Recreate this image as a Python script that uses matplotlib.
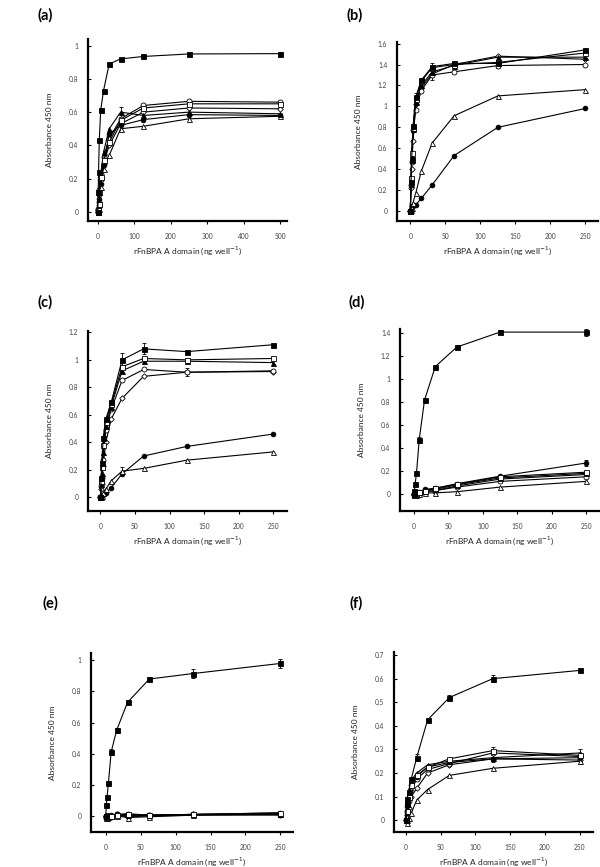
import matplotlib
matplotlib.use("Agg")
import matplotlib.pyplot as plt
from matplotlib.ticker import FuncFormatter

# ---- data ----
CONC = [0, 0.98, 1.95, 3.9, 7.8, 15.6, 31.25, 62.5, 125, 250]
CONC_A = CONC + [500]

# series order: filled square, open square, filled triangle, open triangle,
#               filled circle, open circle, open diamond
SERIES = ["fsq", "osq", "ftri", "otri", "fcir", "ocir", "odia"]

A_VALUES = [
    [0.0, 0.12, 0.24, 0.43, 0.61, 0.73, 0.89, 0.92, 0.935, 0.95, 0.952],
    [0.0, 0.01, 0.05, 0.12, 0.21, 0.31, 0.42, 0.55, 0.625, 0.65, 0.65],
    [0.0, 0.02, 0.05, 0.12, 0.22, 0.36, 0.50, 0.60, 0.58, 0.60, 0.59],
    [0.0, 0.0, 0.02, 0.06, 0.15, 0.26, 0.34, 0.50, 0.515, 0.56, 0.575],
    [0.0, 0.01, 0.03, 0.08, 0.17, 0.28, 0.47, 0.52, 0.555, 0.585, 0.58],
    [0.0, 0.02, 0.06, 0.13, 0.23, 0.33, 0.44, 0.56, 0.64, 0.665, 0.66],
    [0.0, 0.01, 0.04, 0.10, 0.19, 0.29, 0.40, 0.53, 0.60, 0.625, 0.62],
]
A_ERR = [(2, 7, 0.03), (0, 10, 0.01)]

B_VALUES = [
    [0.0, 0.28, 0.50, 0.81, 1.09, 1.25, 1.38, 1.41, 1.41, 1.54],
    [0.0, 0.32, 0.55, 0.79, 1.07, 1.24, 1.37, 1.40, 1.42, 1.51],
    [0.0, 0.26, 0.49, 0.78, 1.04, 1.20, 1.33, 1.39, 1.47, 1.47],
    [0.0, 0.01, 0.03, 0.08, 0.17, 0.38, 0.65, 0.91, 1.10, 1.16],
    [0.0, 0.0, 0.05, 0.05, 0.06, 0.12, 0.25, 0.53, 0.80, 0.98],
    [0.0, 0.25, 0.47, 0.77, 0.97, 1.15, 1.30, 1.33, 1.39, 1.40],
    [0.0, 0.22, 0.40, 0.67, 1.02, 1.18, 1.31, 1.40, 1.48, 1.45],
]
B_ERR = [(0, 6, 0.03), (6, 6, 0.06), (0, 4, 0.04), (5, 8, 0.02)]

C_VALUES = [
    [0.0, 0.14, 0.25, 0.43, 0.57, 0.69, 1.00, 1.08, 1.06, 1.11],
    [0.0, 0.12, 0.22, 0.38, 0.55, 0.68, 0.95, 1.01, 1.00, 1.01],
    [0.0, 0.10, 0.18, 0.33, 0.52, 0.66, 0.92, 0.99, 0.99, 0.98],
    [0.0, 0.0, 0.01, 0.03, 0.06, 0.12, 0.19, 0.21, 0.27, 0.33],
    [0.0, 0.0, 0.01, 0.02, 0.03, 0.07, 0.17, 0.30, 0.37, 0.46],
    [0.0, 0.08, 0.14, 0.27, 0.49, 0.64, 0.85, 0.93, 0.91, 0.92],
    [0.0, 0.06, 0.10, 0.23, 0.40, 0.57, 0.72, 0.88, 0.91, 0.915],
]
C_ERR = [(0, 6, 0.05), (0, 7, 0.04), (3, 6, 0.03), (6, 8, 0.03), (1, 8, 0.015)]

D_VALUES = [
    [0.0, 0.03, 0.09, 0.18, 0.47, 0.82, 1.11, 1.28, 1.41, 1.41],
    [0.0, -0.01, 0.0, 0.01, 0.02, 0.03, 0.05, 0.085, 0.15, 0.19],
    [0.0, 0.0, 0.01, 0.01, 0.02, 0.03, 0.04, 0.08, 0.14, 0.18],
    [0.0, -0.01, -0.01, -0.01, 0.0, 0.01, 0.01, 0.02, 0.06, 0.11],
    [0.0, 0.0, 0.01, 0.02, 0.02, 0.04, 0.05, 0.09, 0.155, 0.27],
    [0.0, -0.01, -0.01, 0.0, 0.01, 0.02, 0.03, 0.06, 0.11, 0.15],
    [0.0, -0.01, 0.0, 0.0, 0.01, 0.02, 0.03, 0.07, 0.13, 0.17],
]
D_ERR = [(0, 4, 0.03), (0, 8, 0.015), (0, 9, 0.03), (4, 9, 0.03)]

E_VALUES = [
    [0.0, 0.07, 0.12, 0.21, 0.41, 0.55, 0.73, 0.88, 0.915, 0.98],
    [0.0, -0.005, 0.0, 0.005, 0.0, 0.005, 0.01, 0.005, 0.01, 0.02],
    [0.0, 0.0, 0.005, 0.0, 0.005, 0.01, 0.005, 0.005, 0.01, 0.015],
    [0.0, -0.01, -0.01, -0.005, 0.0, 0.0, -0.01, -0.005, 0.005, 0.01],
    [0.0, 0.0, -0.005, 0.0, 0.005, 0.01, 0.0, 0.005, 0.01, 0.02],
    [0.0, -0.01, -0.01, -0.01, -0.005, 0.01, 0.015, 0.005, 0.01, 0.005],
    [0.0, -0.005, -0.01, 0.0, 0.0, 0.005, -0.005, 0.0, 0.005, 0.01],
]
E_ERR = [(0, 4, 0.02), (0, 5, 0.015), (0, 6, 0.01), (0, 8, 0.03), (0, 9, 0.03)]

F_VALUES = [
    [0.0, 0.07, 0.09, 0.12, 0.175, 0.265, 0.425, 0.52, 0.60, 0.635],
    [0.0, 0.04, 0.07, 0.10, 0.15, 0.19, 0.225, 0.26, 0.295, 0.275],
    [0.0, 0.05, 0.08, 0.12, 0.17, 0.20, 0.235, 0.25, 0.265, 0.285],
    [0.0, -0.01, 0.0, 0.01, 0.03, 0.085, 0.13, 0.19, 0.22, 0.25],
    [0.0, 0.03, 0.06, 0.10, 0.15, 0.185, 0.225, 0.245, 0.26, 0.265],
    [0.0, 0.01, 0.04, 0.08, 0.125, 0.175, 0.215, 0.24, 0.285, 0.27],
    [0.0, 0.0, 0.02, 0.05, 0.10, 0.135, 0.20, 0.235, 0.26, 0.255],
]
F_ERR = [(0, 5, 0.015), (0, 7, 0.01), (0, 8, 0.015), (1, 8, 0.015),
         (2, 9, 0.015), (6, 8, 0.015), (3, 9, 0.01)]

X_LABEL = r"rFnBPA A domain (ng well$^{-1}$)"
Y_LABEL = "Absorbance 450 nm"

STYLE = {
    "fsq": dict(marker="s", mfc="black", ms=3.6),
    "osq": dict(marker="s", mfc="white", ms=3.6),
    "ftri": dict(marker="^", mfc="black", ms=3.6),
    "otri": dict(marker="^", mfc="white", ms=3.6),
    "fcir": dict(marker="o", mfc="black", ms=3.4),
    "ocir": dict(marker="o", mfc="white", ms=3.6),
    "odia": dict(marker="D", mfc="white", ms=2.8),
}

plt.rcParams["font.family"] = ["Lato", "DejaVu Sans"]
plt.rcParams["mathtext.fontset"] = "dejavusans"

fig = plt.figure(figsize=(6.0, 8.67), dpi=100)
W, H = 600.0, 867.0


def add_axes(left, top, right, bottom):
    return fig.add_axes([left / W, 1 - bottom / H, (right - left) / W, (bottom - top) / H])


def draw_panel(ax, x, values, errors, xlim, ylim, xticks, yticks):
    # draw lower series first so the top curve sits above
    for name, y in reversed(list(zip(SERIES, values))):
        ax.plot(x, y, color="black", lw=0.8, mec="black", mew=0.6,
                zorder=3, **STYLE[name])
    for si, xi, err in errors:
        ax.errorbar(x[xi], values[si][xi], yerr=err, fmt="none", ecolor="black",
                    elinewidth=0.6, capsize=1.6, capthick=0.6, zorder=2)

    ax.set_xlim(*xlim)
    ax.set_ylim(*ylim)
    ax.set_xticks(xticks)
    ax.set_yticks(yticks)
    ax.yaxis.set_major_formatter(FuncFormatter(lambda v, _: f"{round(v, 2):g}"))
    for side in ("top", "right"):
        ax.spines[side].set_visible(False)
    for side in ("left", "bottom"):
        ax.spines[side].set_linewidth(1.6)
    ax.tick_params(axis="both", labelsize=4.8, labelcolor="#444444",
                   length=2.5, width=0.8, direction="out", pad=6)
    ax.tick_params(axis="y", direction="in", pad=7)
    ax.set_ylabel(Y_LABEL, fontsize=6.0, color="#222222")
    ax.set_xlabel(X_LABEL, fontsize=6.0, color="#222222")
    ax.yaxis.set_label_coords(-0.175, 0.5)
    ax.xaxis.set_label_coords(0.5, -0.13)


panels = [
    # label, label pos, axes box (px), x, values, errors, xlim, ylim, xticks, yticks
    ("(a)", (45, 15), (88, 39, 287, 221), CONC_A, A_VALUES, A_ERR,
     (-27, 519), (-0.055, 1.04), range(0, 501, 100), [0, 0.2, 0.4, 0.6, 0.8, 1.0]),
    ("(b)", (355, 15), (397, 42, 598, 221), CONC, B_VALUES, B_ERR,
     (-19, 268), (-0.095, 1.615), range(0, 251, 50), [i * 0.2 for i in range(9)]),
    ("(c)", (45, 302), (88, 331, 287, 511), CONC, C_VALUES, C_ERR,
     (-18, 270), (-0.1, 1.21), range(0, 251, 50), [i * 0.2 for i in range(7)]),
    ("(d)", (357, 302), (400, 329, 600, 511), CONC, D_VALUES, D_ERR,
     (-20, 270), (-0.148, 1.437), range(0, 251, 50), [i * 0.2 for i in range(8)]),
    ("(e)", (50, 603), (91, 653, 293, 832), CONC, E_VALUES, E_ERR,
     (-21, 268), (-0.103, 1.047), range(0, 251, 50), [0, 0.2, 0.4, 0.6, 0.8, 1.0]),
    ("(f)", (356, 603), (394, 652, 593, 832), CONC, F_VALUES, F_ERR,
     (-17, 269), (-0.05, 0.713), range(0, 251, 50), [i * 0.1 for i in range(8)]),
]

for label, (lx, ly), box, x, values, errors, xlim, ylim, xticks, yticks in panels:
    ax = add_axes(*box)
    draw_panel(ax, x, values, errors, xlim, ylim, xticks, yticks)
    fig.text(lx / W, 1 - ly / H, label, fontsize=10.5, fontweight="bold",
             ha="center", va="center")

fig.savefig("out.png", dpi=100)
